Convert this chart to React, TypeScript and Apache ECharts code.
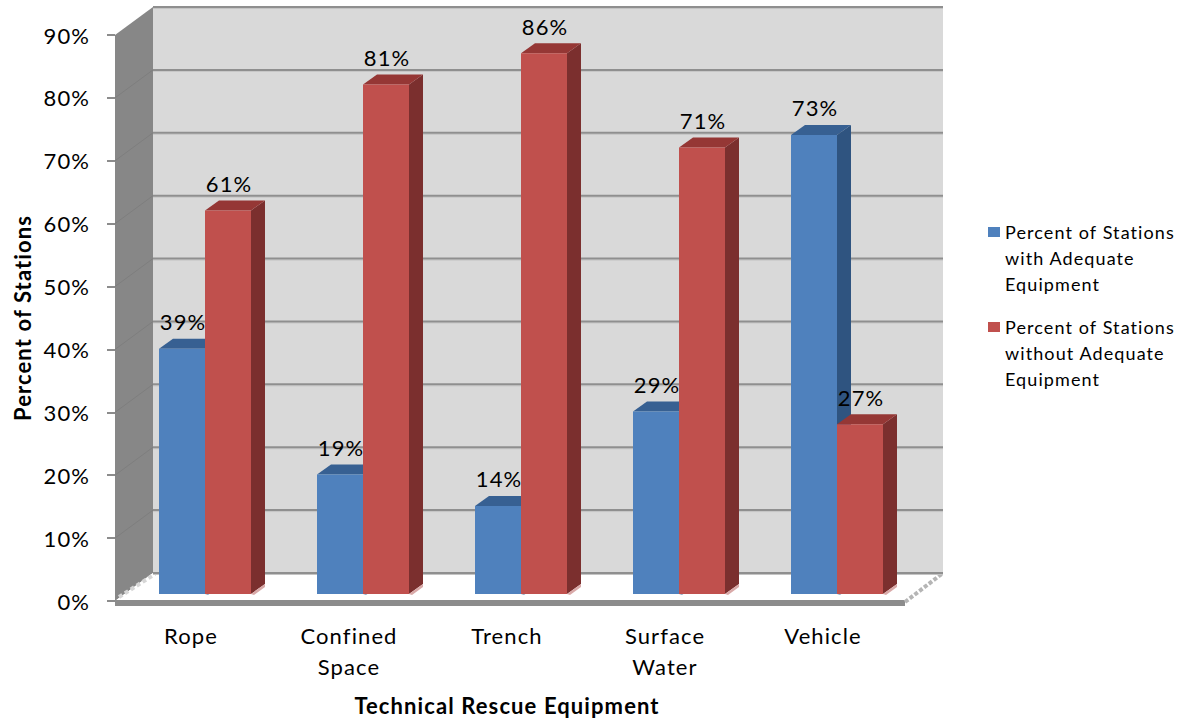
import React, { useEffect, useRef } from "react";
import * as echarts from "echarts";

const categories = ["Rope", "Confined\nSpace", "Trench", "Surface\nWater", "Vehicle"];
const withEquipment = [39, 19, 14, 29, 73];
const withoutEquipment = [61, 81, 86, 71, 27];
const ticks = [0, 10, 20, 30, 40, 50, 60, 70, 80, 90];
const nameWith = "Percent of Stations with Adequate Equipment";
const nameWithout = "Percent of Stations without Adequate Equipment";
const legendLines: Record<string, string> = {
  [nameWith]: "\n\nPercent of Stations\nwith Adequate\nEquipment",
  [nameWithout]: "\n\nPercent of Stations\nwithout Adequate\nEquipment",
};

const FONT = "Lato, Carlito, 'Noto Sans', sans-serif";
const WALL_DX = 38;
const WALL_DY = -28;
const PLANE_DX = 11;
const PLANE_DY = -7;
const BAR_DX = 14;
const BAR_DY = -10;
const BAR_FRACTION = 46 / 158;

function wallItem(params: any, api: any) {
  const cs = params.coordSys;
  const v = api.value(1);
  const y = api.coord([0, v])[1];
  const left = cs.x;
  const right = cs.x + cs.width;
  const top = cs.y;
  const bottom = cs.y + cs.height;
  const children: any[] = [];
  if (params.dataIndex === 0) {
    children.push(
      {
        type: "polygon",
        shape: { points: [[left + WALL_DX, top + WALL_DY], [right + WALL_DX, top + WALL_DY], [right + WALL_DX, bottom + WALL_DY], [left + WALL_DX, bottom + WALL_DY]] },
        style: { fill: "#d9d9d9" },
      },
      {
        type: "polygon",
        shape: { points: [[left, top], [left + WALL_DX, top + WALL_DY], [left + WALL_DX, bottom + WALL_DY], [left, bottom]] },
        style: { fill: "#878787" },
      },
      {
        type: "polygon",
        shape: { points: [[left, bottom], [left + WALL_DX, bottom + WALL_DY], [right + WALL_DX, bottom + WALL_DY], [right, bottom]] },
        style: { fill: "#ffffff" },
      },
      {
        type: "rect",
        shape: { x: left, y: bottom - 1, width: right - left, height: 6 },
        style: { fill: "#8c8c8c" },
      },
      {
        type: "line",
        shape: { x1: right, y1: bottom + 1, x2: right + WALL_DX, y2: bottom + WALL_DY },
        style: { stroke: "#b5b5b5", lineWidth: 4, lineDash: [4, 2] },
      },
      {
        type: "line",
        shape: { x1: left + 4, y1: bottom - 4, x2: left + WALL_DX + 2, y2: bottom + WALL_DY + 1 },
        style: { stroke: "#d6d6d6", lineWidth: 4, lineDash: [4, 3] },
      }
    );
  }
  children.push(
    {
      type: "line",
      shape: { x1: left + WALL_DX, y1: y + WALL_DY + 1.5, x2: right + WALL_DX, y2: y + WALL_DY + 1.5 },
      style: { stroke: "#c4c4c4", lineWidth: 1 },
    },
    {
      type: "line",
      shape: { x1: left + WALL_DX, y1: y + WALL_DY, x2: right + WALL_DX, y2: y + WALL_DY },
      style: { stroke: "#8f8f8f", lineWidth: 2 },
    }
  );
  if (v > 0 && v < ticks[ticks.length - 1]) {
    children.push({
      type: "line",
      shape: { x1: left, y1: y, x2: left + WALL_DX, y2: y + WALL_DY },
      style: { stroke: "#7e7e7e", lineWidth: 1 },
    });
  }
  return { type: "group", children };
}

function barRenderer(side: -1 | 1, front: string, sideFill: string, topFill: string, footFill: string) {
  return (_params: any, api: any) => {
    const cat = api.value(0);
    const val = api.value(1);
    const band = api.size([1, 0])[0];
    const w = band * BAR_FRACTION;
    const center = api.coord([cat, 0])[0] + PLANE_DX;
    const x0 = side < 0 ? center - w : center;
    const x1 = x0 + w;
    const yBase = api.coord([cat, 0])[1] + PLANE_DY;
    const yTop = api.coord([cat, val])[1] + PLANE_DY;
    return {
      type: "group",
      children: [
        {
          type: "polygon",
          shape: { points: [[x1, yTop], [x1 + BAR_DX, yTop + BAR_DY], [x1 + BAR_DX, yBase + BAR_DY], [x1, yBase]] },
          style: { fill: sideFill },
        },
        {
          type: "polygon",
          shape: { points: [[x1, yBase], [x1 + BAR_DX, yBase + BAR_DY], [x1 + BAR_DX, yBase + BAR_DY + 3], [x1 + 3, yBase + 1]] },
          style: { fill: footFill },
        },
        {
          type: "polygon",
          shape: { points: [[x0, yTop], [x0 + BAR_DX, yTop + BAR_DY], [x1 + BAR_DX, yTop + BAR_DY], [x1, yTop]] },
          style: { fill: topFill },
        },
        {
          type: "rect",
          shape: { x: x0, y: yTop, width: w, height: yBase - yTop },
          style: { fill: front },
        },
        {
          type: "text",
          style: {
            text: `${val}%`,
            x: (x0 + x1) / 2 + 1,
            y: yTop - 27,
            align: "center",
            verticalAlign: "middle",
            fontFamily: FONT,
            fontSize: 22,
            fill: "#000000",
          },
        },
      ],
    };
  };
}

export default function App() {
  const ref = useRef<HTMLDivElement>(null);
  useEffect(() => {
    if (!ref.current) return;
    const chart = echarts.init(ref.current, undefined, { renderer: "svg" });
    chart.setOption({
      animation: false,
      backgroundColor: "#ffffff",
      textStyle: { fontFamily: FONT },
      grid: { left: 115, right: 278, top: 35, bottom: 120, containLabel: false, outerBoundsMode: "none" },
      legend: {
        show: true,
        data: [nameWith, nameWithout],
        orient: "vertical",
        left: 983,
        top: 162,
        itemWidth: 12,
        itemHeight: 10,
        itemGap: -35,
        icon: "rect",
        selectedMode: false,
        formatter: (n: string) => legendLines[n],
        textStyle: { fontFamily: FONT, fontSize: 18, lineHeight: 26, color: "#000000" },
      },
      xAxis: {
        type: "category",
        data: categories,
        axisLine: { show: false },
        axisTick: { show: false },
        axisLabel: { fontFamily: FONT, fontSize: 22, lineHeight: 31, color: "#000000", margin: 19, interval: 0, padding: [0, 6, 0, 0] },
        name: "Technical Rescue Equipment",
        nameLocation: "middle",
        nameGap: 93,
        nameTextStyle: { fontFamily: FONT, fontSize: 22, fontWeight: "bold", color: "#000000", padding: [0, 6, 0, 0] },
      },
      yAxis: {
        type: "value",
        min: 0,
        max: 90,
        interval: 10,
        splitLine: { show: false },
        axisLine: { show: false },
        axisTick: { show: true, length: 8, lineStyle: { color: "#8c8c8c", width: 2 } },
        axisLabel: { fontFamily: FONT, fontSize: 22, color: "#000000", margin: 25, formatter: "{value}%" },
        name: "Percent of Stations",
        nameLocation: "middle",
        nameGap: 82,
        nameRotate: 90,
        nameTextStyle: { fontFamily: FONT, fontSize: 22, fontWeight: "bold", color: "#000000" },
      },
      series: [
        {
          type: "custom",
          name: "walls",
          silent: true,
          data: ticks.map((t) => [0, t]),
          encode: { x: 0, y: 1 },
          renderItem: wallItem,
        },
        {
          type: "custom",
          name: nameWith,
          itemStyle: { color: "#4f81bd" },
          data: withEquipment.map((v, i) => [i, v]),
          encode: { x: 0, y: 1 },
          renderItem: barRenderer(-1, "#4f81bd", "#2f5480", "#376092", "#8aa4c4"),
        },
        {
          type: "custom",
          name: nameWithout,
          itemStyle: { color: "#c0504d" },
          data: withoutEquipment.map((v, i) => [i, v]),
          encode: { x: 0, y: 1 },
          renderItem: barRenderer(1, "#c0504d", "#7b2f2e", "#953735", "#d9a9a8"),
        },
      ],
    });
    return () => chart.dispose();
  }, []);
  return <div ref={ref} style={{ position: "fixed", left: 0, top: 0, width: 1183, height: 721, letterSpacing: "1.1px" }} />;
}
